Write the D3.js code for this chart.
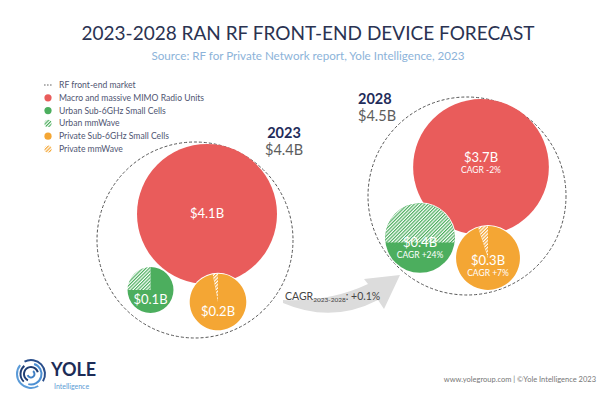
<!DOCTYPE html>
<html>
<head>
<meta charset="utf-8">
<script src="https://cdn.jsdelivr.net/npm/d3@7"></script>
<style>
  body { margin: 0; background: #fff; }
  svg { font-family: "Lato", "Open Sans", sans-serif; }
</style>
</head>
<body>
<div id="chart-area"></div>
<script>
// data
const years = ["2023", "2028"]
const yearTotals = ["$4.4B", "$4.5B"]
const segments = ["Macro and massive MIMO Radio Units", "Urban Sub-6GHz Small Cells", "Private Sub-6GHz Small Cells"]
const macroValues = [4.1, 3.7]
const urbanValues = [0.1, 0.4]
const privateValues = [0.2, 0.3]
// share of the mmWave part inside each small-cell bubble
const urbanMmWaveShare = [0.25, 0.58]
const privateMmWaveShare = [0.03, 0.05]
const segmentCagr = ["CAGR -2%", "CAGR +24%", "CAGR +7%"]
const totalCagr = "+0.1%"
const legendLabels = ["RF front-end market", "Macro and massive MIMO Radio Units", "Urban Sub-6GHz Small Cells",
  "Urban mmWave", "Private Sub-6GHz Small Cells", "Private mmWave"]

const colors = { macro: "#e95c5b", urban: "#4cae5e", private: "#f4a634" }

const width = 600
const height = 400

const svg = d3.select("#chart-area").append("svg")
  .attr("width", width)
  .attr("height", height)

const defs = svg.append("defs")
function hatch(id, color) {
  const p = defs.append("pattern")
    .attr("id", id)
    .attr("patternUnits", "userSpaceOnUse")
    .attr("width", 2.4)
    .attr("height", 2.4)
    .attr("patternTransform", "rotate(45)")
  p.append("rect").attr("width", 2.4).attr("height", 2.4).attr("fill", "#fff")
  p.append("rect").attr("width", 1.2).attr("height", 2.4).attr("fill", color)
}
hatch("hatch-urban", colors.urban)
hatch("hatch-private", colors.private)

// titles
svg.append("text")
  .attr("x", 308).attr("y", 40)
  .attr("text-anchor", "middle")
  .attr("font-size", "19px")
  .attr("fill", "#2a3352")
  .attr("textLength", 453)
  .attr("lengthAdjust", "spacingAndGlyphs")
  .text("2023-2028 RAN RF FRONT-END DEVICE FORECAST")

svg.append("text")
  .attr("x", 308).attr("y", 60)
  .attr("text-anchor", "middle")
  .attr("font-size", "11px")
  .attr("fill", "#8cb3d9")
  .attr("textLength", 313)
  .attr("lengthAdjust", "spacingAndGlyphs")
  .text("Source: RF for Private Network report, Yole Intelligence, 2023")

// legend
const legend = svg.append("g").attr("transform", "translate(48, 85)")
const legendFill = [null, colors.macro, colors.urban, "url(#hatch-urban)", colors.private, "url(#hatch-private)"]
legendLabels.forEach((label, i) => {
  const row = legend.append("g").attr("transform", `translate(0, ${i * 12.8})`)
  if (i === 0) {
    row.append("line")
      .attr("x1", -4).attr("x2", 4)
      .attr("stroke", "#666").attr("stroke-width", 1.2)
      .attr("stroke-dasharray", "1.6,1.4")
  } else {
    row.append("circle").attr("r", 3.6).attr("fill", legendFill[i])
  }
  row.append("text")
    .attr("x", 11).attr("dy", "0.35em")
    .attr("font-size", "8.6px")
    .attr("fill", "#4f5572")
    .text(label)
})

// bubble radius scale (small bubbles are enlarged in the original)
const r = d3.scalePow().exponent(0.3)
  .domain([0, 4.1])
  .range([0, 70])

// layout of each year group
const layout = [
  {
    outer: { x: 195, y: 240, r: 98 },
    macro: { x: 207, y: 214 }, urban: { x: 150.5, y: 290 }, private: { x: 218, y: 302 },
    year: { x: 284, y: 138, anchor: "middle" },
    urbanSplit: "pie"
  },
  {
    outer: { x: 467, y: 196, r: 99 },
    macro: { x: 481, y: 167 }, urban: { x: 420, y: 238 }, private: { x: 488, y: 258 },
    year: { x: 358, y: 104, anchor: "start" },
    urbanSplit: "level"
  }
]

const arc = d3.arc().innerRadius(0)
const split = d3.pie().value(d => d).sort(null)

// height of a horizontal cut so that the cap above holds a share of the area
function capOffset(share, radius) {
  let lo = -radius, hi = radius
  for (let k = 0; k < 40; k++) {
    const h = (lo + hi) / 2 // distance of cut below centre
    const d = -h
    const a = radius * radius * Math.acos(d / radius) - d * Math.sqrt(radius * radius - d * d)
    if (a / (Math.PI * radius * radius) > share) hi = h
    else lo = h
  }
  return (lo + hi) / 2
}

years.forEach((year, i) => {
  const L = layout[i]
  const g = svg.append("g")

  g.append("circle")
    .attr("cx", L.outer.x).attr("cy", L.outer.y).attr("r", L.outer.r)
    .attr("fill", "none")
    .attr("stroke", "#555")
    .attr("stroke-width", 1)
    .attr("stroke-dasharray", "3,2")

  // macro bubble
  g.append("circle")
    .attr("cx", L.macro.x).attr("cy", L.macro.y)
    .attr("r", r(macroValues[i]))
    .attr("fill", colors.macro)

  // urban bubble
  const ru = r(urbanValues[i])
  const ug = g.append("g").attr("transform", `translate(${L.urban.x}, ${L.urban.y})`)
  ug.append("circle").attr("r", ru + 1).attr("fill", "#fff")
  if (L.urbanSplit === "pie") {
    const share = urbanMmWaveShare[i]
    const pie = split.startAngle(-2 * Math.PI * share).endAngle(2 * Math.PI * (1 - share))
    ug.selectAll("path")
      .data(pie([share, 1 - share]))
      .enter().append("path")
      .attr("d", d => arc.outerRadius(ru)(d))
      .attr("fill", (d, k) => k === 0 ? "url(#hatch-urban)" : colors.urban)
  } else {
    const cut = capOffset(urbanMmWaveShare[i], ru)
    const clipId = "urban-clip-" + i
    defs.append("clipPath").attr("id", clipId)
      .append("rect")
      .attr("x", L.urban.x - ru).attr("y", L.urban.y - ru)
      .attr("width", ru * 2).attr("height", ru + cut)
    ug.append("circle").attr("r", ru).attr("fill", colors.urban)
    g.append("circle")
      .attr("cx", L.urban.x).attr("cy", L.urban.y).attr("r", ru)
      .attr("fill", "url(#hatch-urban)")
      .attr("clip-path", `url(#${clipId})`)
  }

  // private bubble
  const rp = r(privateValues[i])
  const pg = g.append("g").attr("transform", `translate(${L.private.x}, ${L.private.y})`)
  pg.append("circle").attr("r", rp + 1).attr("fill", "#fff")
  const ps = privateMmWaveShare[i]
  const ppie = split.startAngle(-2 * Math.PI * ps).endAngle(2 * Math.PI * (1 - ps))
  pg.selectAll("path")
    .data(ppie([ps, 1 - ps]))
    .enter().append("path")
    .attr("d", d => arc.outerRadius(rp)(d))
    .attr("fill", (d, k) => k === 0 ? "url(#hatch-private)" : colors.private)

  // values
  const labelled = [
    { c: L.macro, v: macroValues[i], cagr: segmentCagr[0], dy: i === 0 ? 4 : -5 },
    { c: L.urban, v: urbanValues[i], cagr: segmentCagr[1], dy: i === 0 ? 14 : 9 },
    { c: L.private, v: privateValues[i], cagr: segmentCagr[2], dy: i === 0 ? 14 : 7 }
  ]
  labelled.forEach(d => {
    g.append("text")
      .attr("x", d.c.x).attr("y", d.c.y + d.dy)
      .attr("text-anchor", "middle")
      .attr("font-size", "13px")
      .attr("fill", "#fff")
      .text("$" + d.v.toFixed(1) + "B")
    if (i === 1) {
      g.append("text")
        .attr("x", d.c.x).attr("y", d.c.y + d.dy + 11)
        .attr("text-anchor", "middle")
        .attr("font-size", "8.5px")
        .attr("fill", "#fff")
        .text(d.cagr)
    }
  })

  // year heading
  g.append("text")
    .attr("x", L.year.x).attr("y", L.year.y)
    .attr("text-anchor", L.year.anchor)
    .attr("font-size", "14.5px")
    .attr("font-weight", "bold")
    .attr("fill", "#1f2c5a")
    .text(year)
  g.append("text")
    .attr("x", L.year.x).attr("y", L.year.y + 17)
    .attr("text-anchor", L.year.anchor)
    .attr("font-size", "14.5px")
    .attr("fill", "#5d5d5d")
    .text(yearTotals[i])
})

// growth arrow
svg.append("path")
  .attr("d", "M283,300 Q330,302 368,284 L364,279 L400,275 L384,309 L378,300 Q332,324 283,303 Z")
  .attr("fill", "#dcdcdc")

const cagrText = svg.append("text")
  .attr("x", 285).attr("y", 300)
  .attr("font-size", "10.5px")
  .attr("fill", "#444")
cagrText.append("tspan").text("CAGR")
cagrText.append("tspan").attr("font-size", "6.5px").attr("dy", 2).text(years.join("-"))
cagrText.append("tspan").attr("dy", -2).text(": " + totalCagr)

// footer logo
const logo = svg.append("g").attr("transform", "translate(31, 374)")
const rings = [
  { r0: 2.5, r1: 4.5, a0: 0.6, a1: 4.4, c: "#3f7fc4" },
  { r0: 6, r1: 8, a0: 3.6, a1: 7.6, c: "#1f3d73" },
  { r0: 9.5, r1: 11.5, a0: 0.3, a1: 3.4, c: "#4b8fd3" },
  { r0: 9.5, r1: 11.5, a0: 3.9, a1: 5.6, c: "#1f3d73" },
  { r0: 13, r1: 15, a0: 2.6, a1: 5.4, c: "#5b9bd8" },
  { r0: 13, r1: 15, a0: 5.8, a1: 8.4, c: "#2a4f8c" }
]
logo.selectAll("path")
  .data(rings)
  .enter().append("path")
  .attr("d", d => d3.arc().innerRadius(d.r0).outerRadius(d.r1).startAngle(d.a0).endAngle(d.a1)())
  .attr("fill", d => d.c)

svg.append("text")
  .attr("x", 51).attr("y", 376)
  .attr("font-size", "18px")
  .attr("font-weight", "bold")
  .attr("fill", "#1c2c57")
  .text("YOLE")
svg.append("text")
  .attr("x", 54).attr("y", 389)
  .attr("font-size", "7px")
  .attr("fill", "#5b9bd5")
  .text("Intelligence")

svg.append("text")
  .attr("x", 596).attr("y", 382)
  .attr("text-anchor", "end")
  .attr("font-size", "7.5px")
  .attr("fill", "#777")
  .text("www.yolegroup.com | ©Yole Intelligence 2023")
</script>
</body>
</html>
